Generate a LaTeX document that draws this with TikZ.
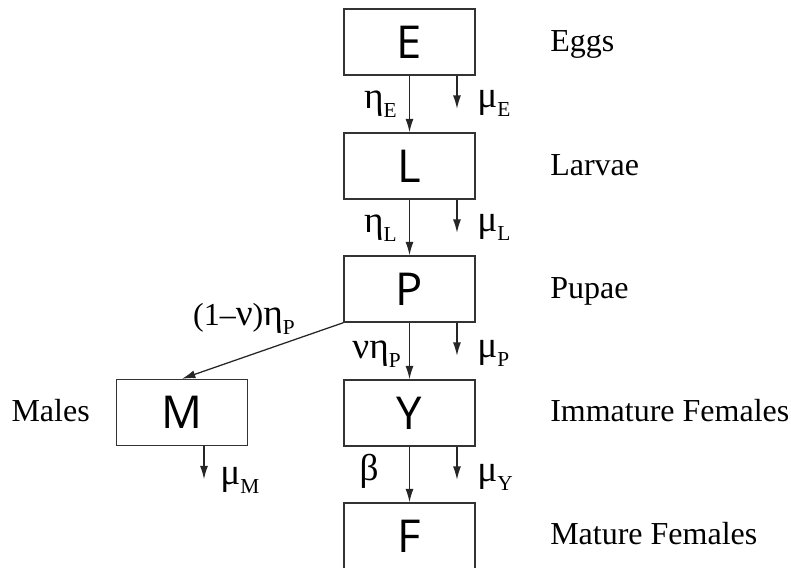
\documentclass[tikz,border=0pt]{standalone}
\usepackage{fontspec}
\setmainfont{Liberation Serif}
\newfontfamily\boxfont{Open Sans}
\usetikzlibrary{arrows.meta}
\newcommand\sbx[1]{\raisebox{-0.3em}{\fontsize{16}{16}\selectfont #1}}
\newcommand\gk[1]{{\fontsize{28}{28}\selectfont #1}}
\newcommand\bl[1]{\raisebox{-2.5pt}{#1}}
\begin{document}
\begin{tikzpicture}[x=0.75pt,y=-0.75pt,
  stage/.style={draw=black!80, line width=1.1pt, minimum width=98.25pt, minimum height=49.5pt, inner sep=0pt, font=\boxfont\fontsize{34}{34}\selectfont},
  flow/.style={draw=black!85, line width=0.95pt, -{Latex[length=10pt,width=6pt]}},
  lbl/.style={inner sep=0pt, font=\fontsize{24}{28}\selectfont}]
\useasboundingbox (0,0) rectangle (791,567);
% stages
\node[stage] (E) at (409.5,42) {\bl{E}};
\node[stage] (L) at (409.5,166) {\bl{L}};
\node[stage] (P) at (409.5,289) {\bl{P}};
\node[stage] (Y) at (409.5,413) {\bl{Y}};
\node[stage] (F) at (409.5,536) {\bl{F}};
\node[stage] (M) at (182,412.5) {\bl{M}};
% stage names
\node[lbl, anchor=base west] (eggs) at (550,51) {Eggs};
\node[lbl, anchor=base west] (larvae) at (550,175) {Larvae};
\node[lbl, anchor=base west] (pupae) at (550,298) {Pupae};
\node[lbl, anchor=base west] (imm) at (550,421) {Immature Females};
\node[lbl, anchor=base west] (mat) at (550,544) {Mature Females};
\node[lbl, anchor=base east] (males) at (90,421) {Males};
% transitions
\draw[flow] (E.south) -- (L.north);
\draw[flow] (L.south) -- (P.north);
\draw[flow] (P.south) -- (Y.north);
\draw[flow] (Y.south) -- (F.north);
\draw[flow] (P.south west) -- (M.north);
% mortality
\draw[flow] ([xshift=35.6pt]E.south) -- ++(0,33) coordinate (dE);
\draw[flow] ([xshift=35.6pt]L.south) -- ++(0,33) coordinate (dL);
\draw[flow] ([xshift=35.6pt]P.south) -- ++(0,33) coordinate (dP);
\draw[flow] ([xshift=35.6pt]Y.south) -- ++(0,33) coordinate (dY);
\draw[flow] ([xshift=16.5pt]M.south) -- ++(0,33) coordinate (dM);
% rate labels
\node[lbl, anchor=base east] (etaE) at (397,108) {\gk{η}\sbx{E}};
\node[lbl, anchor=base west] (muE) at (477,107) {\gk{μ}\sbx{E}};
\node[lbl, anchor=base east] (etaL) at (397,232) {\gk{η}\sbx{L}};
\node[lbl, anchor=base west] (muL) at (477,231) {\gk{μ}\sbx{L}};
\node[lbl, anchor=base east] (etaP) at (401,358) {\gk{νη}\sbx{P}};
\node[lbl, anchor=base west] (muP) at (477,357) {\gk{μ}\sbx{P}};
\node[lbl, anchor=base east] (beta) at (379,480) {\gk{β}};
\node[lbl, anchor=base west] (muY) at (477,481) {\gk{μ}\sbx{Y}};
\node[lbl, anchor=base west] (muM) at (220,484) {\gk{μ}\sbx{M}};
\node[lbl, anchor=base east] (etaM) at (295,325) {(1–\gk{ν})\gk{η}\sbx{P}};
\end{tikzpicture}
\end{document}
